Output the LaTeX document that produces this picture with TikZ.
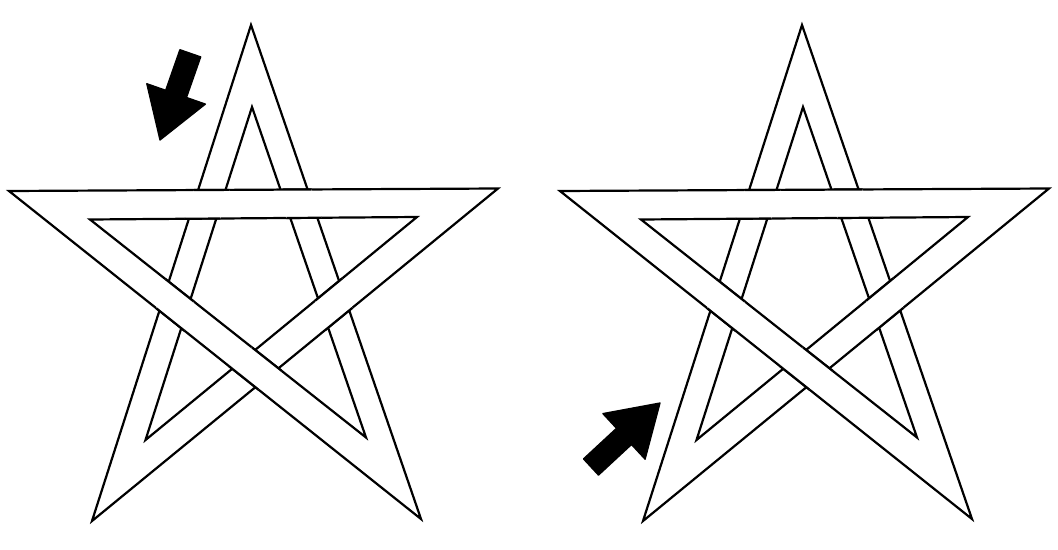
\documentclass[tikz,border=0pt]{standalone}
\usetikzlibrary{calc}
\tikzset{
  edge/.style={line width=1.65pt, line join=miter, miter limit=20},
  bigarrow/.style={fill=black, draw=black, line width=1pt, line join=round},
}
% #1--#2 outer and #3--#4 inner edge of the band on top,
% #5--#6 outer and #7--#8 inner edge of the band beneath
\newcommand{\crossover}[8]{%
  \coordinate (p1) at (intersection of #1--#2 and #5--#6);
  \coordinate (p2) at (intersection of #1--#2 and #7--#8);
  \coordinate (p3) at (intersection of #3--#4 and #7--#8);
  \coordinate (p4) at (intersection of #3--#4 and #5--#6);
  \coordinate (q1) at ($(p1)!-3pt!(p2)$);
  \coordinate (q2) at ($(p2)!-3pt!(p1)$);
  \coordinate (q3) at ($(p3)!-3pt!(p4)$);
  \coordinate (q4) at ($(p4)!-3pt!(p3)$);
  \fill[white] (q1)--(q2)--(q3)--(q4)--cycle;
  \draw[edge] (q1)--(q2) (q4)--(q3);
}
\newcommand{\wovenstar}{%
  \coordinate (T)   at (251,25);
  \coordinate (iT)  at (252,107);
  \coordinate (L)   at (9,191);
  \coordinate (R)   at (498,188.5);
  \coordinate (iL)  at (90,219.5);
  \coordinate (iR)  at (417,217);
  \coordinate (BL)  at (92,521);
  \coordinate (BR)  at (421,519);
  \coordinate (iBL) at (145.5,440);
  \coordinate (iBR) at (366,437.5);
  \draw[edge] (T)--(BL)--(R)--(L)--(BR)--cycle;
  \draw[edge] (iT)--(iBL)--(iR)--(iL)--(iBR)--cycle;
  \crossover{R}{L}{iR}{iL}{T}{BL}{iT}{iBL}
  \crossover{R}{L}{iR}{iL}{BR}{T}{iBR}{iT}
  \crossover{L}{BR}{iL}{iBR}{T}{BL}{iT}{iBL}
  \crossover{BL}{R}{iBL}{iR}{BR}{T}{iBR}{iT}
  \crossover{L}{BR}{iL}{iBR}{BL}{R}{iBL}{iR}
}
\begin{document}
\begin{tikzpicture}[x=0.75pt, y=-0.75pt]
  \useasboundingbox (0,0) rectangle (1058,550);
  \fill[white] (0,0) rectangle (1058,550);
  \begin{scope}
    \wovenstar
  \end{scope}
  \begin{scope}[shift={(551,0)}]
    \wovenstar
  \end{scope}
  % arrows
  \fill[bigarrow] (179.9,49.7) -- (200.7,56.9) -- (186.5,97.5) -- (205.4,104.1)
    -- (160,140) -- (146.8,83.7) -- (165.7,90.3) -- cycle;
  \fill[bigarrow] (583.5,458.9) -- (616.5,428.3) -- (602.9,413.6) -- (660,403)
    -- (645.1,459.2) -- (631.5,444.5) -- (598.5,475.1) -- cycle;
\end{tikzpicture}
\end{document}
